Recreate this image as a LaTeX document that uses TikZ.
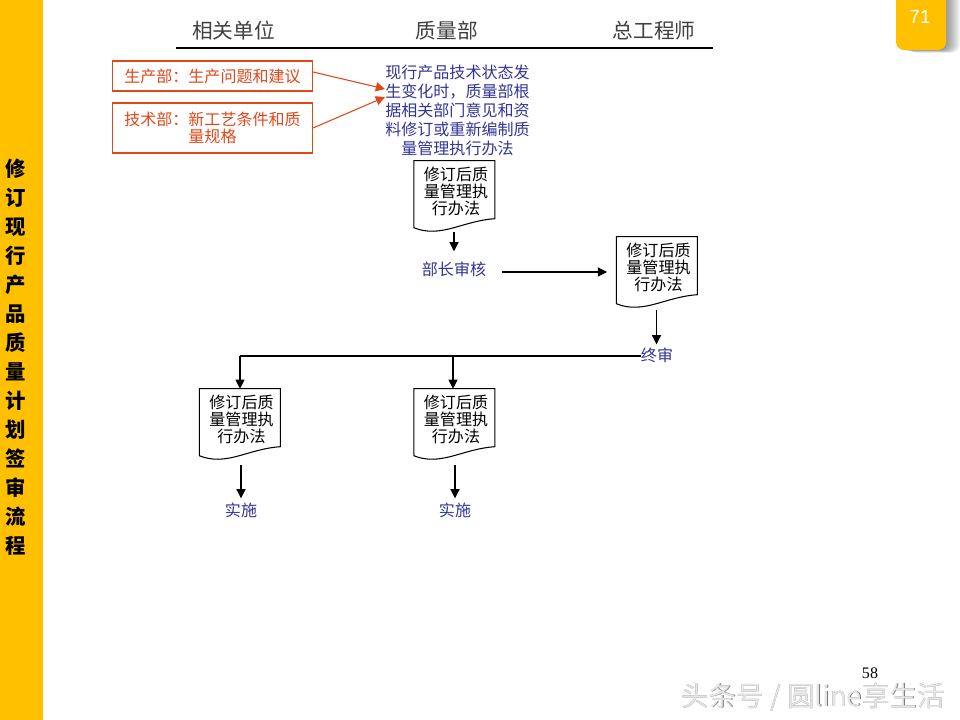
\documentclass[tikz,border=0pt]{standalone}
\usepackage{fontspec}
\setmainfont{Noto Sans CJK SC}
\newfontfamily\romanfont{Liberation Serif}
\newfontfamily\arialfont{Liberation Sans}
\usetikzlibrary{arrows.meta}
\definecolor{sidebar}{HTML}{FFC000}
\definecolor{redline}{HTML}{E0481A}
\definecolor{bluetext}{HTML}{333399}
\tikzset{
	arrow/.style = {-{Triangle[length = .23cm, width = .23cm]}, line width = .75pt},
	headtext/.style = {font = \fontsize{14.7}{17}\selectfont, text = black!75},
	redbox/.style = {draw = redline, line width = .75pt, text = redline, minimum width = 5cm, inner sep = 0pt, align = center, font = \fontsize{11.4}{12.4}\selectfont},
	bluenote/.style = {text = bluetext, inner sep = 0pt, align = center, font = \fontsize{11.4}{13.5}\selectfont},
	docbox/.style = {minimum width = 2.025cm, minimum height = 1.5cm, inner sep = 0pt, align = center, font = \fontsize{11.4}{12.1}\selectfont},
}
\newcommand{\doctext}{修订后质\\量管理执\\行办法}
\begin{document}
\begin{tikzpicture}[x = .025cm, y = -.025cm]
		\useasboundingbox (0, 0) rectangle (960, 720);
		\fill[sidebar] (0, 0) rectangle (43, 720);
		\node[font = \fontsize{14.5}{20.6}\selectfont\bfseries, align = center, inner sep = 0pt] (sidetitle) at (16, 357) {修\\订\\现\\行\\产\\品\\质\\量\\计\\划\\签\\审\\流\\程};
		% page badge
		\begin{scope}
		\clip (0, 0) rectangle (960, 720);
		\foreach \r in {1, 2, ..., 14}{
			\fill[opacity = 0.035, fill = black, rounded corners = .2cm] (896 + \r, -10) rectangle (946 + \r, 50 + \r * 0.2);}
		\fill[sidebar, rounded corners = .2cm] (896, -10) rectangle (946, 50);
		\end{scope}
		\node[font = \fontsize{13.5}{15}\arialfont, text = white] (badge) at (920, 16.5) {71};
		% header
		\node[headtext] (unithead) at (233.5, 31) {相关单位};
		\node[headtext] (qualityhead) at (447, 31) {质量部};
		\node[headtext] (chiefhead) at (654, 31) {总工程师};
		\coordinate (ruleleft) at (176, 48);
		\coordinate (ruleright) at (713, 48);
		\draw[line width = .75pt] (ruleleft) -- (ruleright);
		% source boxes
		\node[redbox, minimum height = .75cm] (prodbox) at (212.5, 76) {生产部：生产问题和建议};
		\node[redbox, minimum height = 1.25cm] (techbox) at (212.5, 128) {技术部：新工艺条件和质\\量规格};
		\node[bluenote] (revnote) at (457.5, 110) {现行产品技术状态发\\生变化时，质量部根\\据相关部门意见和资\\料修订或重新编制质\\量管理执行办法};
		\coordinate (notein1) at (385, 89);
		\coordinate (notein2) at (385, 97);
		\draw[arrow, draw = redline, fill = redline] ([yshift = .1cm]prodbox.east) -- (notein1);
		\draw[arrow, draw = redline, fill = redline] (techbox.east) -- (notein2);
		% documents
		\foreach \name/\x/\y in {docdraft/454/161, docchief/656.5/237, docleft/239.5/389, docmid/454/389}{
			\node[docbox] (\name) at (\x + 2, \y + 30) {\doctext};
			\draw[line width = .75pt] (\name.north east) ++(-2, 0) -- ++(-81, 0) -- ++(0, 67) .. controls +(27, 11) and +(-32, 2) .. ++(81, -9) -- cycle;}
		\node[bluenote] (minister) at (454, 269) {部长审核};
		\node[bluenote] (finalcheck) at (657, 355) {终审};
		\node[bluenote] (applyleft) at (241, 510) {实施};
		\node[bluenote] (applymid) at (455, 510) {实施};
		\coordinate (busleft) at (240, 356);
		\coordinate (busmid) at (453, 356);
		\coordinate (chiefin) at (607, 272);
		\draw[arrow] ([xshift = -.05cm, yshift = -.275cm]docdraft.south) -- ([xshift = -.05cm, yshift = .25cm]minister.north -| docdraft.south);
		\draw[arrow] (minister.east |- chiefin) ++(.4cm, 0) -- (chiefin);
		\draw[arrow] ([xshift = -.05cm, yshift = -.325cm]docchief.south) -- ([xshift = -.05cm, yshift = .075cm]finalcheck.north -| docchief.south);
		\draw[line width = .75pt] (finalcheck.west |- busleft) -- (busleft);
		\draw[arrow] (busleft) -- (busleft |- docleft.north);
		\draw[arrow] (busmid) -- (busmid |- docmid.north);
		\draw[arrow] ([xshift = -.0125cm, yshift = -.4cm]docleft.south) -- ([yshift = .1cm]applyleft.north);
		\draw[arrow] ([xshift = -.025cm, yshift = -.4cm]docmid.south) -- ([yshift = .1cm]applymid.north);
		% footer
		\node[font = \fontsize{11.4}{13}\romanfont] (pagenum) at (870, 673) {58};
		\node[font = \fontsize{19.6}{21}\selectfont, text = black!55] (markshadow) at (813.6, 697.6) {头条号 / 圆line享生活};
		\node[font = \fontsize{19.6}{21}\selectfont, text = black!10] (mark) at (813, 697) {头条号 / 圆line享生活};
\end{tikzpicture}
\end{document}
